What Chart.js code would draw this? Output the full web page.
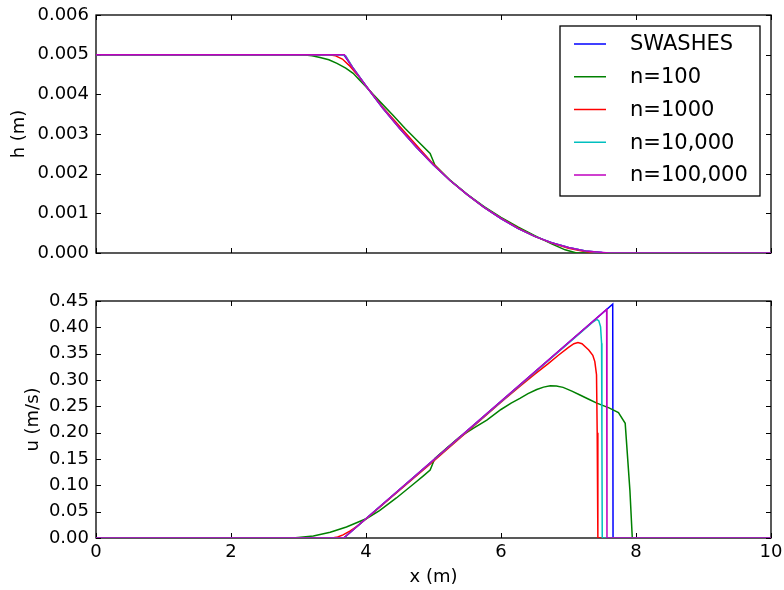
<!DOCTYPE html>
<html>
<head>
<meta charset="utf-8">
<script src="https://cdn.jsdelivr.net/npm/chart.js@4.4.0/dist/chart.umd.min.js"></script>
<style>
html, body { margin: 0; padding: 0; background: #fff; }
#wrap { position: relative; width: 784px; height: 590px; }
canvas { position: absolute; left: 0; }
#topChart { top: 0; }
#bottomChart { top: 290px; }
</style>
</head>
<body>
<div id="wrap">
  <canvas id="topChart" width="784" height="290"></canvas>
  <canvas id="bottomChart" width="784" height="300"></canvas>
</div>
<script>
// noms des séries (ordre de la légende)
const seriesNames = ['SWASHES', 'n=100', 'n=1000', 'n=10,000', 'n=100,000'];
const seriesColors = ['#0000ff', '#008000', '#ff0000', '#00bfbf', '#bf00bf'];

// --- hauteur d'eau h (m) ---
const hX_swashes = [0, 3.67, 3.8, 4.0, 4.25, 4.5, 4.75, 5.0, 5.25, 5.5, 5.75, 6.0, 6.25, 6.5, 6.75, 7.0, 7.25, 7.5, 7.66, 10];
const h_swashes  = [0.005, 0.005, 0.00468, 0.00421, 0.00365, 0.00314, 0.00266, 0.00222, 0.00182, 0.00147, 0.00115, 0.00087, 0.00062, 0.00042, 0.00026, 0.00014, 0.00005, 0.00001, 0, 0];

const hX_n100 = [0, 2.95, 3.1, 3.2, 3.32, 3.45, 3.57, 3.7, 3.81, 3.9, 4.0, 4.21, 4.4, 4.58, 4.75, 4.95, 5.02, 5.25, 5.5, 5.75, 6.0, 6.25, 6.5, 6.75, 6.95, 7.12, 10];
const h_n100  = [0.005, 0.005, 0.00499, 0.00497, 0.00493, 0.00487, 0.00478, 0.00466, 0.00453, 0.00437, 0.00419, 0.00381, 0.00347, 0.00314, 0.00285, 0.00251, 0.00222, 0.00183, 0.00148, 0.00117, 0.0009, 0.00066, 0.00044, 0.00023, 0.00008, 0, 0];

const hX_n1000 = [0, 3.45, 3.55, 3.65, 3.75, 3.9, 4.0, 4.25, 4.5, 4.75, 5.0, 5.25, 5.5, 5.75, 6.0, 6.25, 6.5, 6.75, 7.0, 7.2, 7.4, 10];
const h_n1000  = [0.005, 0.005, 0.00497, 0.00489, 0.00473, 0.00444, 0.00421, 0.00367, 0.00319, 0.00271, 0.00224, 0.00182, 0.00147, 0.00115, 0.00088, 0.00063, 0.00042, 0.00025, 0.00012, 0.00005, 0, 0];

const hX_n10k = [0, 3.62, 3.7, 3.8, 4.0, 4.25, 4.5, 4.75, 5.0, 5.25, 5.5, 5.75, 6.0, 6.25, 6.5, 6.75, 7.0, 7.25, 7.55, 10];
const h_n10k  = [0.005, 0.005, 0.00497, 0.00469, 0.00421, 0.00365, 0.00314, 0.00266, 0.00222, 0.00182, 0.00147, 0.00115, 0.00087, 0.00062, 0.00042, 0.00026, 0.00014, 0.00005, 0, 0];

const hX_n100k = [0, 3.68, 3.8, 4.0, 4.25, 4.5, 4.75, 5.0, 5.25, 5.5, 5.75, 6.0, 6.25, 6.5, 6.75, 7.0, 7.25, 7.6, 10];
const h_n100k  = [0.005, 0.005, 0.00468, 0.00421, 0.00365, 0.00314, 0.00266, 0.00222, 0.00182, 0.00147, 0.00115, 0.00087, 0.00062, 0.00042, 0.00026, 0.00014, 0.00005, 0, 0];

// --- vitesse u (m/s) ---
const uX_swashes = [0, 3.67, 7.655, 7.66, 10];
const u_swashes  = [0, 0, 0.444, 0, 0];

const uX_n100 = [0, 2.92, 3.22, 3.47, 3.71, 4.01, 4.2, 4.45, 4.7, 4.85, 4.95, 5.02, 5.2, 5.39, 5.6, 5.79, 6.0, 6.15, 6.28, 6.4, 6.53, 6.63, 6.73, 6.82, 6.92, 7.05, 7.17, 7.3, 7.42, 7.6, 7.74, 7.84, 7.91, 7.945, 10];
const u_n100  = [0, 0, 0.004, 0.011, 0.021, 0.037, 0.052, 0.076, 0.102, 0.118, 0.129, 0.151, 0.171, 0.192, 0.209, 0.224, 0.244, 0.256, 0.265, 0.274, 0.282, 0.2865, 0.289, 0.2885, 0.286, 0.279, 0.2715, 0.2635, 0.256, 0.247, 0.238, 0.2177, 0.09, 0, 0];

const uX_n1000 = [0, 3.5, 3.58, 3.66, 3.76, 3.86, 4.0, 5.0, 6.0, 6.3, 6.5, 6.7, 6.85, 7.0, 7.08, 7.14, 7.2, 7.3, 7.36, 7.39, 7.415, 7.425, 7.435, 10];
const u_n1000  = [0, 0, 0.002, 0.006, 0.013, 0.0215, 0.036, 0.146, 0.258, 0.29, 0.311, 0.331, 0.347, 0.362, 0.369, 0.371, 0.369, 0.357, 0.347, 0.335, 0.31, 0.2, 0, 0];

const uX_n10k = [0, 3.67, 7.35, 7.42, 7.45, 7.475, 7.49, 7.495, 7.5, 10];
const u_n10k  = [0, 0, 0.409, 0.415, 0.412, 0.401, 0.37, 0.2, 0, 0];

const uX_n100k = [0, 3.67, 7.565, 7.57, 10];
const u_n100k  = [0, 0, 0.434, 0, 0];

const hTicks = { min: 0, max: 0.006, step: 0.001, digits: 3 };
const uTicks = { min: 0, max: 0.45, step: 0.05, digits: 2 };

Chart.defaults.font.family = 'DejaVu Sans';
Chart.defaults.color = '#000';

function pts(xs, ys) {
  return xs.map((x, i) => ({ x: x, y: ys[i] }));
}

function makeDatasets(series) {
  return series.map((s, i) => ({
    label: seriesNames[i],
    data: pts(s[0], s[1]),
    borderColor: seriesColors[i],
    backgroundColor: seriesColors[i],
    borderWidth: 1.5,
    pointRadius: 0,
    showLine: true,
    fill: false,
    tension: 0,
    order: series.length - 1 - i   // le dernier (n=100,000) dessiné au-dessus
  }));
}

// cadre + graduations intérieures façon matplotlib
const framePlugin = {
  id: 'frame',
  beforeDatasetsDraw(chart) {
    const { ctx, chartArea: a, scales } = chart;
    const tl = 5;
    ctx.save();
    ctx.strokeStyle = '#000';
    ctx.lineWidth = 1.3;
    ctx.strokeRect(a.left, a.top, a.right - a.left, a.bottom - a.top);
    ctx.lineWidth = 1;
    ctx.beginPath();
    scales.x.ticks.forEach(t => {
      const px = Math.round(scales.x.getPixelForValue(t.value)) + 0.5;
      ctx.moveTo(px, a.top); ctx.lineTo(px, a.top + tl);
      ctx.moveTo(px, a.bottom); ctx.lineTo(px, a.bottom - tl);
    });
    scales.y.ticks.forEach(t => {
      const py = Math.round(scales.y.getPixelForValue(t.value)) + 0.5;
      ctx.moveTo(a.left, py); ctx.lineTo(a.left + tl, py);
      ctx.moveTo(a.right, py); ctx.lineTo(a.right - tl, py);
    });
    ctx.stroke();
    ctx.restore();
  }
};

// légende encadrée dans la zone du graphe du haut
const boxLegend = {
  id: 'boxLegend',
  afterDraw(chart) {
    const ctx = chart.ctx;
    ctx.save();
    ctx.fillStyle = '#fff';
    ctx.fillRect(560, 26, 200, 170);
    ctx.strokeStyle = '#000';
    ctx.lineWidth = 1.3;
    ctx.strokeRect(560, 26, 200, 170);
    ctx.font = '21px "DejaVu Sans"';
    ctx.textBaseline = 'middle';
    chart.data.datasets.forEach((ds, i) => {
      const y = 44 + 32.75 * i;
      ctx.strokeStyle = ds.borderColor;
      ctx.lineWidth = 1.5;
      ctx.beginPath();
      ctx.moveTo(574, y); ctx.lineTo(606, y);
      ctx.stroke();
      ctx.fillStyle = '#000';
      ctx.fillText(ds.label, 630, y + 1);
    });
    ctx.restore();
  }
};

function makeOptions(t, yTitle, yTitlePad, xTitle, padTop, xHeight) {
  return {
    responsive: false,
    animation: false,
    devicePixelRatio: 1,
    layout: { padding: { top: padTop, right: 13, left: 0, bottom: 0 } },
    plugins: { legend: { display: false }, tooltip: { enabled: false } },
    scales: {
      x: {
        type: 'linear', min: 0, max: 10,
        grid: { display: false, drawTicks: false },
        border: { display: false },
        ticks: { display: !!xTitle, stepSize: 2, padding: 4, font: { size: 18 } },
        title: xTitle ? { display: true, text: xTitle, font: { size: 18 }, padding: { top: 0, bottom: 2 } } : { display: false },
        afterFit(s) {
          s.height = xHeight;
          s.paddingLeft = 0; s.paddingRight = 0;
        }
      },
      y: {
        type: 'linear', min: t.min, max: t.max,
        grid: { display: false, drawTicks: false },
        border: { display: false },
        ticks: {
          stepSize: t.step, padding: 7, font: { size: 18 },
          callback: v => Number(v).toFixed(t.digits)
        },
        title: { display: true, text: yTitle, font: { size: 18 }, padding: { top: yTitlePad, bottom: 0 } },
        afterFit(s) {
          s.width = 96;
          s.paddingTop = 0; s.paddingBottom = 0;
        }
      }
    }
  };
}

new Chart(document.getElementById('topChart'), {
  type: 'scatter',
  data: {
    datasets: makeDatasets([
      [hX_swashes, h_swashes], [hX_n100, h_n100], [hX_n1000, h_n1000],
      [hX_n10k, h_n10k], [hX_n100k, h_n100k]
    ])
  },
  options: makeOptions(hTicks, 'h (m)', 8.7, null, 15, 37),
  plugins: [framePlugin, boxLegend]
});

new Chart(document.getElementById('bottomChart'), {
  type: 'scatter',
  data: {
    datasets: makeDatasets([
      [uX_swashes, u_swashes], [uX_n100, u_n100], [uX_n1000, u_n1000],
      [uX_n10k, u_n10k], [uX_n100k, u_n100k]
    ])
  },
  options: makeOptions(uTicks, 'u (m/s)', 22.2, 'x (m)', 11, 52),
  plugins: [framePlugin]
});
</script>
</body>
</html>
